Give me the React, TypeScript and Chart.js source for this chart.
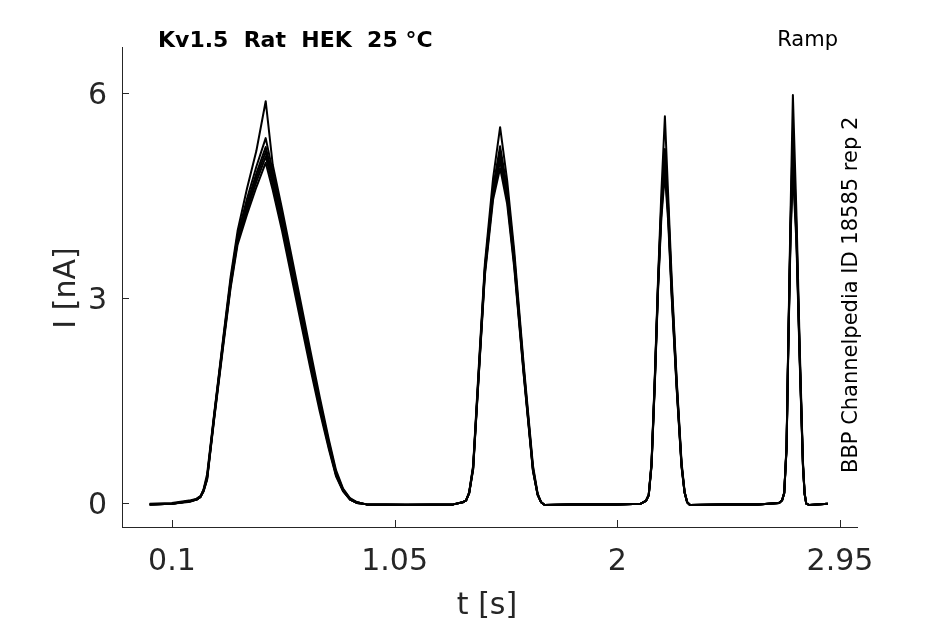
import { useEffect, useRef } from "react"
import Chart from "chart.js/auto"

// sample times [s], shared by every sweep
const TIME = [
  0.005, 0.1, 0.18, 0.205, 0.222, 0.235, 0.25, 0.28, 0.32, 0.35, 0.38, 0.42, 0.46, 0.5, 0.53, 0.57,
  0.61, 0.65, 0.69, 0.73, 0.77, 0.8, 0.83, 0.86, 0.89, 0.93, 1.1, 1.3, 1.34, 1.355, 1.368, 1.385,
  1.41, 1.435, 1.47, 1.5, 1.53, 1.56, 1.6, 1.64, 1.66, 1.675, 1.69, 1.8, 2.0, 2.1, 2.122, 2.134,
  2.146, 2.16, 2.174, 2.188, 2.203, 2.217, 2.232, 2.253, 2.274, 2.287, 2.298, 2.31, 2.45, 2.6,
  2.69, 2.703, 2.712, 2.722, 2.729, 2.739, 2.749, 2.764, 2.778, 2.792, 2.799, 2.806, 2.82, 2.898,
]

// current [nA] per sweep
const SWEEP_A = [
  -0.02, -0.01, 0.03, 0.06, 0.1, 0.2, 0.42, 1.3, 2.45, 3.3, 3.98, 4.6, 5.15, 5.88, 4.95, 4.3,
  3.62, 2.93, 2.24, 1.56, 0.92, 0.48, 0.21, 0.07, 0.01, -0.02, -0.02, -0.02, 0.01, 0.04, 0.16, 0.55,
  2.05, 3.5, 4.75, 5.5, 4.72, 3.7, 2.05, 0.55, 0.14, 0.01, -0.03, -0.02, -0.02, -0.01, 0.03, 0.12,
  0.6, 1.85, 3.3, 4.55, 5.66, 4.5, 3.28, 1.82, 0.6, 0.17, 0.01, -0.03, -0.02, -0.02,
  0.0, 0.04, 0.15, 0.85, 2.3, 4.25, 5.97, 4.25, 2.3, 0.6, 0.15, -0.01, -0.03, -0.01,
]
const SWEEP_B = [
  -0.01, 0.0, 0.04, 0.06, 0.1, 0.19, 0.38, 1.28, 2.42, 3.25, 3.92, 4.45, 4.92, 5.34, 4.85, 4.22,
  3.55, 2.86, 2.17, 1.5, 0.88, 0.45, 0.2, 0.06, 0.01, -0.02, -0.02, -0.02, 0.01, 0.04, 0.15, 0.53,
  2.0, 3.45, 4.62, 5.22, 4.6, 3.62, 2.0, 0.52, 0.13, 0.01, -0.03, -0.02, -0.02, -0.01, 0.03, 0.12,
  0.58, 1.82, 3.25, 4.4, 5.18, 4.35, 3.18, 1.78, 0.57, 0.16, 0.01, -0.03, -0.02, -0.02,
  0.0, 0.04, 0.15, 0.83, 2.27, 4.1, 5.45, 4.05, 2.2, 0.57, 0.14, -0.01, -0.03, -0.01,
]
const SWEEP_C = [
  -0.02, -0.01, 0.03, 0.05, 0.09, 0.19, 0.37, 1.27, 2.4, 3.22, 3.88, 4.38, 4.82, 5.21, 4.78, 4.15,
  3.48, 2.8, 2.12, 1.46, 0.85, 0.43, 0.19, 0.06, 0.01, -0.02, -0.03, -0.02, 0.01, 0.04, 0.15, 0.52,
  1.98, 3.42, 4.58, 5.15, 4.55, 3.58, 1.97, 0.5, 0.13, 0.01, -0.03, -0.02, -0.02, -0.01, 0.03, 0.12,
  0.57, 1.8, 3.22, 4.35, 5.08, 4.3, 3.14, 1.75, 0.56, 0.16, 0.01, -0.03, -0.02, -0.02,
  0.0, 0.04, 0.15, 0.82, 2.25, 4.05, 5.28, 4.0, 2.17, 0.56, 0.14, -0.01, -0.03, -0.01,
]
const SWEEP_D = [
  -0.02, -0.01, 0.03, 0.05, 0.09, 0.18, 0.36, 1.25, 2.38, 3.2, 3.85, 4.33, 4.76, 5.14, 4.72, 4.1,
  3.43, 2.76, 2.08, 1.43, 0.83, 0.42, 0.18, 0.05, 0.0, -0.02, -0.03, -0.02, 0.01, 0.04, 0.15, 0.51,
  1.96, 3.4, 4.55, 5.08, 4.5, 3.54, 1.95, 0.49, 0.12, 0.01, -0.03, -0.02, -0.02, -0.01, 0.03, 0.12,
  0.56, 1.78, 3.2, 4.3, 5.0, 4.25, 3.1, 1.73, 0.55, 0.15, 0.01, -0.03, -0.02, -0.02,
  0.0, 0.04, 0.15, 0.81, 2.23, 4.0, 5.12, 3.95, 2.15, 0.55, 0.13, -0.01, -0.03, -0.01,
]
const SWEEP_E = [
  -0.02, -0.01, 0.03, 0.05, 0.09, 0.18, 0.35, 1.24, 2.36, 3.17, 3.82, 4.28, 4.7, 5.07, 4.66, 4.05,
  3.38, 2.71, 2.04, 1.4, 0.81, 0.41, 0.18, 0.05, 0.0, -0.02, -0.03, -0.02, 0.01, 0.04, 0.14, 0.5,
  1.94, 3.37, 4.5, 5.0, 4.45, 3.5, 1.92, 0.48, 0.12, 0.01, -0.03, -0.02, -0.02, -0.01, 0.03, 0.11,
  0.55, 1.76, 3.17, 4.25, 4.92, 4.2, 3.06, 1.7, 0.54, 0.15, 0.01, -0.03, -0.02, -0.02,
  0.0, 0.04, 0.14, 0.8, 2.21, 3.95, 5.0, 3.9, 2.12, 0.54, 0.13, -0.01, -0.03, -0.01,
]
const SWEEP_F = [
  -0.02, -0.01, 0.02, 0.05, 0.09, 0.17, 0.34, 1.22, 2.33, 3.14, 3.78, 4.22, 4.62, 4.98, 4.58, 3.98,
  3.31, 2.64, 1.98, 1.35, 0.78, 0.39, 0.17, 0.05, 0.0, -0.02, -0.03, -0.02, 0.01, 0.04, 0.14, 0.49,
  1.92, 3.33, 4.44, 4.9, 4.38, 3.45, 1.9, 0.47, 0.12, 0.01, -0.03, -0.02, -0.02, -0.01, 0.03, 0.11,
  0.54, 1.74, 3.13, 4.18, 4.82, 4.12, 3.01, 1.68, 0.53, 0.15, 0.01, -0.03, -0.02, -0.02,
  0.0, 0.04, 0.14, 0.79, 2.18, 3.88, 4.85, 3.82, 2.08, 0.53, 0.13, -0.01, -0.03, -0.01,
]

const SWEEPS = [SWEEP_F, SWEEP_E, SWEEP_D, SWEEP_C, SWEEP_B, SWEEP_A]

const X_TICKS = [0.1, 1.05, 2, 2.95]
const Y_TICKS = [0, 3, 6]

const TITLE = "Kv1.5  Rat  HEK  25 °C"
const PROTOCOL = "Ramp"
const SOURCE = "BBP Channelpedia ID 18585 rep 2"
const X_LABEL = "t [s]"
const Y_LABEL = "I [nA]"

const FONT = "'DejaVu Sans', sans-serif"
const AXIS = "#262626"

const overlay = {
  id: "overlay",
  afterDraw(chart: any) {
    const { ctx, chartArea, scales } = chart
    ctx.save()
    ctx.strokeStyle = AXIS
    ctx.lineWidth = 1
    ctx.beginPath()
    X_TICKS.forEach((v) => {
      const px = Math.round(scales.x.getPixelForValue(v)) + 0.5
      ctx.moveTo(px, chartArea.bottom)
      ctx.lineTo(px, chartArea.bottom - 7)
    })
    Y_TICKS.forEach((v) => {
      const py = Math.round(scales.y.getPixelForValue(v)) + 0.5
      ctx.moveTo(chartArea.left, py)
      ctx.lineTo(chartArea.left + 7, py)
    })
    ctx.stroke()

    ctx.fillStyle = "#000"
    ctx.textBaseline = "alphabetic"
    ctx.font = `bold 22px ${FONT}`
    ctx.textAlign = "left"
    ctx.fillText(TITLE, 158, 47)

    ctx.font = `21px ${FONT}`
    ctx.textAlign = "right"
    ctx.fillText(PROTOCOL, 838, 46)

    ctx.save()
    ctx.translate(857, 473)
    ctx.rotate(-Math.PI / 2)
    ctx.textAlign = "left"
    ctx.fillText(SOURCE, 0, 0)
    ctx.restore()

    ctx.fillStyle = AXIS
    ctx.font = `30px ${FONT}`
    ctx.textAlign = "center"
    ctx.fillText(X_LABEL, 487, 614)

    ctx.save()
    ctx.translate(75, 288)
    ctx.rotate(-Math.PI / 2)
    ctx.textAlign = "center"
    ctx.fillText(Y_LABEL, 0, 0)
    ctx.restore()

    ctx.restore()
  },
}

export default function App() {
  const canvasRef = useRef<HTMLCanvasElement | null>(null)

  useEffect(() => {
    if (!canvasRef.current) return
    const chart = new Chart(canvasRef.current, {
      type: "scatter",
      data: {
        datasets: SWEEPS.map((s) => ({
          data: TIME.map((t, i) => ({ x: t, y: s[i] })),
          showLine: true,
          borderColor: "#000",
          borderWidth: 2,
          borderJoinStyle: "round",
          pointRadius: 0,
          tension: 0,
        })),
      },
      options: {
        animation: false,
        responsive: false,
        events: [],
        layout: { padding: { top: 47, right: 88, left: 0, bottom: 0 } },
        plugins: { legend: { display: false }, tooltip: { enabled: false } },
        scales: {
          x: {
            type: "linear",
            min: -0.113,
            max: 3.0225,
            afterBuildTicks: (s: any) => {
              s.ticks = X_TICKS.map((v) => ({ value: v }))
            },
            afterFit: (s: any) => {
              s.height = 97
            },
            grid: { display: false, drawTicks: false },
            border: { display: true, color: AXIS, width: 1 },
            ticks: {
              padding: 17,
              color: AXIS,
              font: { family: FONT, size: 30 },
              callback: (v: any) => String(v),
            },
          },
          y: {
            type: "linear",
            min: -0.351,
            max: 6.673,
            afterBuildTicks: (s: any) => {
              s.ticks = Y_TICKS.map((v) => ({ value: v }))
            },
            afterFit: (s: any) => {
              s.width = 122
            },
            grid: { display: false, drawTicks: false },
            border: { display: true, color: AXIS, width: 1 },
            ticks: {
              padding: 15,
              labelOffset: 3,
              color: AXIS,
              font: { family: FONT, size: 30 },
              callback: (v: any) => String(v),
            },
          },
        },
      },
      plugins: [overlay],
    })
    return () => chart.destroy()
  }, [])

  return (
    <div style={{ position: "absolute", left: 0, top: 0, width: 945, height: 624, background: "#fff" }}>
      <canvas ref={canvasRef} width={945} height={624} />
    </div>
  )
}
